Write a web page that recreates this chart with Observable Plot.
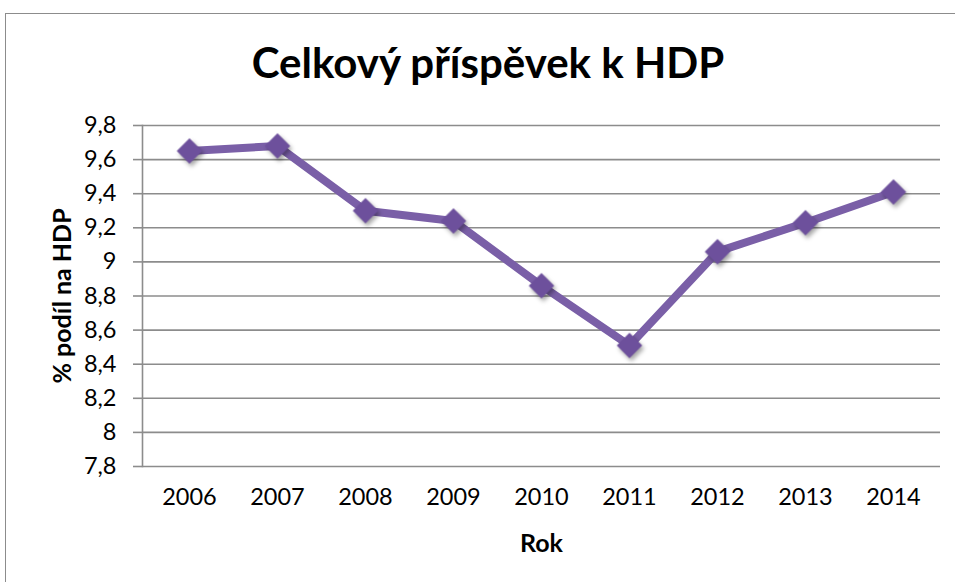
<!DOCTYPE html>
<html>
<head>
<meta charset="utf-8">
<script src="https://cdn.jsdelivr.net/npm/d3@7"></script>
<script src="https://cdn.jsdelivr.net/npm/@observablehq/plot@0.6"></script>
<style>
  html, body { margin: 0; padding: 0; background: #fff; overflow: hidden; width: 955px; height: 582px; }
  #frame { position: absolute; left: 5px; top: 13px; width: 1000px; height: 1000px; border: 1.5px solid #8c8c8c; box-sizing: border-box; }
  #title { position: absolute; left: 0; top: 37px; width: 976px; text-align: center; font-family: Lato, "Open Sans", sans-serif; font-weight: 700; font-size: 42px; color: #000; }
  #chart { position: absolute; left: 0; top: 0; }
</style>
</head>
<body>
<div id="frame"></div>
<div id="chart"></div>
<div id="title">Celkový příspěvek k HDP</div>
<script>
const years = ["2006", "2007", "2008", "2009", "2010", "2011", "2012", "2013", "2014"];
const values = [9.65, 9.68, 9.30, 9.24, 8.86, 8.51, 9.06, 9.23, 9.41];
const yTicks = [7.8, 8.0, 8.2, 8.4, 8.6, 8.8, 9.0, 9.2, 9.4, 9.6, 9.8];
const xLabel = "Rok";
const yLabel = "% podíl na HDP";

const data = years.map((y, i) => ({year: y, value: values[i]}));
const fmt = v => String(Math.round(v * 10) / 10).replace(".", ",");
const gridColor = "#8c8c8c";

const chart = Plot.plot({
  width: 955,
  height: 582,
  marginLeft: 142,
  marginRight: 15,
  marginTop: 125,
  marginBottom: 116,
  style: {fontFamily: "Lato, 'Open Sans', sans-serif", fontSize: "23.5px", color: "#000", background: "transparent"},
  x: {type: "point", domain: years, padding: 0.5, label: null},
  y: {domain: [7.8, 9.8], label: null},
  marks: [
    Plot.gridY(yTicks, {stroke: gridColor, strokeOpacity: 1, strokeWidth: 1.6}),
    Plot.frame({anchor: "left", stroke: gridColor, strokeWidth: 1.6}),
    Plot.axisY(yTicks, {tickFormat: fmt, tickSize: 9, tickPadding: 17, stroke: gridColor, strokeWidth: 1.6, label: null}),
    Plot.axisX({tickSize: 0, tickPadding: 22, label: null}),
    Plot.line(data, {x: "year", y: "value", stroke: "#7a5fa7", strokeWidth: 8, strokeLinejoin: "miter"}),
    Plot.dot(data, {x: "year", y: "value", symbol: "diamond2", r: 11.5, fill: "#6d509c", stroke: "none"}),
    Plot.text([xLabel], {frameAnchor: "bottom", dy: 77, lineAnchor: "middle", textAnchor: "middle", fontWeight: "bold", fontSize: 25}),
    Plot.text([yLabel], {frameAnchor: "left", dx: -80, rotate: -90, lineAnchor: "middle", textAnchor: "middle", fontWeight: "bold", fontSize: 25})
  ]
});
const dots = chart.querySelector('g[aria-label="dot"]');
if (dots) dots.style.filter = "drop-shadow(2px 3px 2px rgba(0,0,0,0.35))";
document.getElementById("chart").appendChild(chart);
</script>
</body>
</html>
